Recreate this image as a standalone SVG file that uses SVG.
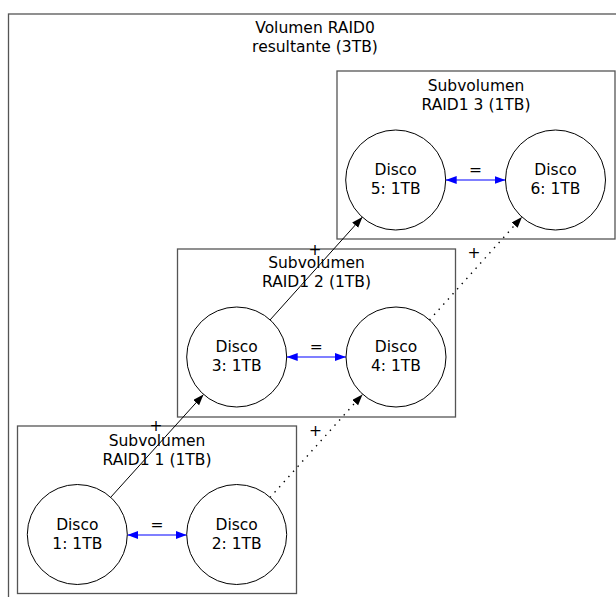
<svg xmlns="http://www.w3.org/2000/svg" width="616" height="597" viewBox="0 0 616 597">
<style>
text{font-family:"DejaVu Sans","Liberation Sans",sans-serif;font-size:15.5px;fill:#000;text-anchor:middle}
.cl{fill:none;stroke:#555;stroke-width:1.3}
.nd{fill:#fff;stroke:#000;stroke-width:1}
.e{stroke:#000;stroke-width:1;fill:none}
.dot{stroke-width:1.4;stroke-dasharray:1.4,5.5}
.eq{stroke:#0000ff;stroke-width:1.2;fill:none}
</style>
<defs>
<marker id="ah" markerUnits="userSpaceOnUse" markerWidth="12" markerHeight="9" refX="11" refY="4" orient="auto">
<path d="M0,0 L11,4 L0,8 z" fill="#000"/>
</marker>
<marker id="ab" markerUnits="userSpaceOnUse" markerWidth="12" markerHeight="9" refX="11" refY="4" orient="auto-start-reverse">
<path d="M0,0 L11,4 L0,8 z" fill="#0000ff"/>
</marker>
</defs>
<g id="cluster_raid0">
<rect class="cl" x="8.5" y="14" width="614" height="600"/>
<text x="315" y="33">Volumen RAID0</text>
<text x="315" y="52">resultante (3TB)</text>
</g>
<g id="cluster_raid1_3">
<rect class="cl" x="337" y="71" width="278" height="168"/>
<text x="476" y="90.5">Subvolumen</text>
<text x="476" y="109.5">RAID1 3 (1TB)</text>
</g>
<g id="cluster_raid1_2">
<rect class="cl" x="177.5" y="249" width="278" height="168"/>
<text x="316.5" y="268.4">Subvolumen</text>
<text x="316.5" y="287.4">RAID1 2 (1TB)</text>
</g>
<g id="cluster_raid1_1">
<rect class="cl" x="17.5" y="426" width="279" height="167.5"/>
<text x="157" y="445.5">Subvolumen</text>
<text x="157" y="464.5">RAID1 1 (1TB)</text>
</g>
<g id="connectors">
<line class="e" x1="110.5" y1="497.5" x2="203.5" y2="394.5" marker-end="url(#ah)"/>
<text x="156" y="430.5">+</text>
<line class="e" x1="270" y1="320" x2="362.5" y2="217" marker-end="url(#ah)"/>
<text x="315" y="254.5">+</text>
<line class="e dot" x1="270" y1="497.5" x2="362.5" y2="394.5" marker-end="url(#ah)"/>
<text x="315.5" y="435.5">+</text>
<line class="e dot" x1="429.5" y1="320" x2="522" y2="217" marker-end="url(#ah)"/>
<text x="474" y="257.5">+</text>
<line class="eq" x1="127.3" y1="535" x2="186.7" y2="535" marker-start="url(#ab)" marker-end="url(#ab)"/>
<text x="157" y="530">=</text>
<line class="eq" x1="286.7" y1="357" x2="346" y2="357" marker-start="url(#ab)" marker-end="url(#ab)"/>
<text x="316.3" y="352">=</text>
<line class="eq" x1="445.7" y1="180" x2="505.5" y2="180" marker-start="url(#ab)" marker-end="url(#ab)"/>
<text x="475.6" y="175">=</text>
</g>
<g id="disco1">
<circle class="nd" cx="77.3" cy="534.5" r="50"/>
<text x="77.3" y="529.9">Disco</text>
<text x="77.3" y="548.9">1: 1TB</text>
</g>
<g id="disco2">
<circle class="nd" cx="236.7" cy="534.5" r="50"/>
<text x="236.7" y="529.9">Disco</text>
<text x="236.7" y="548.9">2: 1TB</text>
</g>
<g id="disco3">
<circle class="nd" cx="236.7" cy="357" r="50"/>
<text x="236.7" y="352.4">Disco</text>
<text x="236.7" y="371.4">3: 1TB</text>
</g>
<g id="disco4">
<circle class="nd" cx="396" cy="357" r="50"/>
<text x="396" y="352.4">Disco</text>
<text x="396" y="371.4">4: 1TB</text>
</g>
<g id="disco5">
<circle class="nd" cx="395.7" cy="180" r="50"/>
<text x="395.7" y="175.4">Disco</text>
<text x="395.7" y="194.4">5: 1TB</text>
</g>
<g id="disco6">
<circle class="nd" cx="555.5" cy="180" r="50"/>
<text x="555.5" y="175.4">Disco</text>
<text x="555.5" y="194.4">6: 1TB</text>
</g>
</svg>
